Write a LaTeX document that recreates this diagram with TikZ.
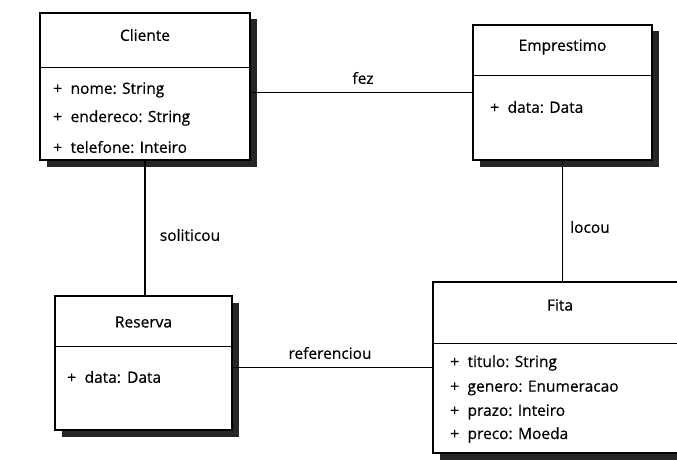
\documentclass[tikz,border=0pt]{standalone}
\usepackage{fontspec}
\setmainfont[FakeBold=0.5, AutoFakeBold=0.5]{Open Sans}
\usetikzlibrary{positioning, shadows}

\begin{document}
\begin{tikzpicture}[x=1pt, y=-1pt, font=\fontsize{15.5}{18}\selectfont\bfseries,
		classe/.style={draw, line width=1.3pt, fill=white, inner sep=0pt,
			drop shadow={shadow xshift=6.5pt, shadow yshift=-6.5pt, fill=black!85, opacity=1}},
		atributo/.style={anchor=west, inner sep=0pt},
		linha/.style={line width=1.3pt}]
	\clip (0,0) rectangle (677,460);
	
	% caixas das classes
	\node[classe, minimum width=210pt, minimum height=147pt] (cliente) at (145,86.5) {};
	\node[classe, minimum width=179pt, minimum height=135pt] (emprestimo) at (562.5,92.5) {};
	\node[classe, minimum width=177pt, minimum height=134pt] (reserva) at (143.5,363) {};
	\node[classe, minimum width=267pt, minimum height=171pt] (fita) at (566.5,367.5) {};
	
	% divisorias
	\draw[linha] ([yshift=-55pt]cliente.north west) -- ([yshift=-55pt]cliente.north east);
	\draw[linha] ([yshift=-51pt]emprestimo.north west) -- ([yshift=-51pt]emprestimo.north east);
	\draw[linha] ([yshift=-51pt]reserva.north west) -- ([yshift=-51pt]reserva.north east);
	\draw[linha] ([yshift=-62pt]fita.north west) -- ([yshift=-62pt]fita.north east);
	
	% nomes das classes
	\node (tCliente) at (145,35) {Cliente};
	\node (tEmprestimo) at (562.5,47) {Emprestimo};
	\node (tReserva) at (143.5,322) {Reserva};
	\node (tFita) at (560,305) {Fita};
	
	% atributos
	\node[atributo] (nome) at (53,90) {+\hspace{0.55em}nome: String};
	\node[atributo] (endereco) at (53,118) {+\hspace{0.55em}endereco: String};
	\node[atributo] (telefone) at (53,147) {+\hspace{0.55em}telefone: Inteiro};
	\node[atributo] (dataE) at (490,107) {+\hspace{0.55em}data: Data};
	\node[atributo] (dataR) at (67,377) {+\hspace{0.55em}data:\hspace{0.4em}Data};
	\node[atributo] (titulo) at (450,363) {+\hspace{0.55em}titulo: String};
	\node[atributo] (genero) at (450,388) {+\hspace{0.55em}genero: Enumeracao};
	\node[atributo] (prazo) at (450,412) {+\hspace{0.55em}prazo: Inteiro};
	\node[atributo] (preco) at (450,435) {+\hspace{0.55em}preco: Moeda};
	
	% associacoes
	\draw[linha] (cliente.east |- emprestimo.west) -- (emprestimo.west);
	\draw[linha] (cliente.south) -- (cliente.south |- reserva.north);
	\draw[linha] (emprestimo.south) -- (emprestimo.south |- fita.north);
	\draw[linha] (reserva.east |- fita.west) -- (fita.west);
	
	% rotulos
	\node (fez) at (363,78) {fez};
	\node (soliticou) at (190,235) {soliticou};
	\node (locou) at (590,227) {locou};
	\node (referenciou) at (330,353) {referenciou};
\end{tikzpicture}
\end{document}
